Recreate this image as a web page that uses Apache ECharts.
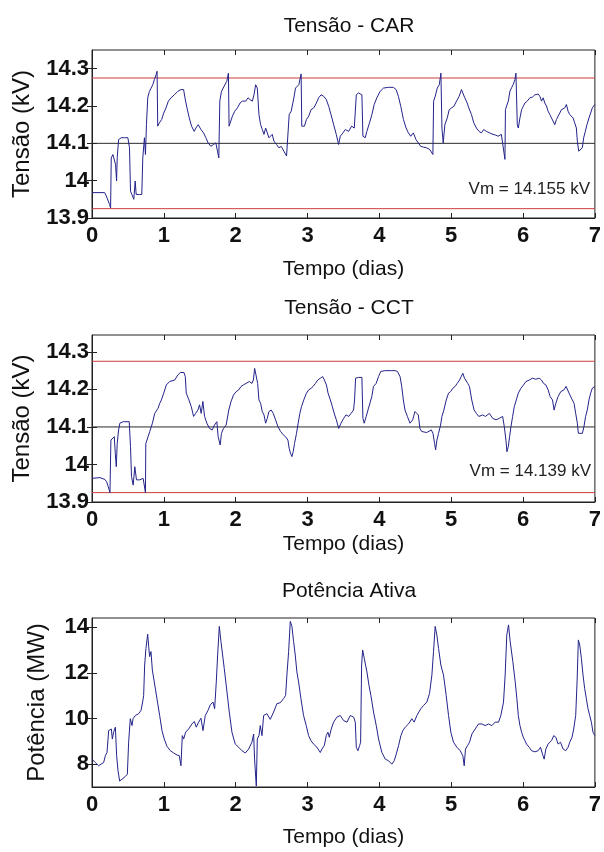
<!DOCTYPE html>
<html>
<head>
<meta charset="utf-8">
<script src="https://cdn.jsdelivr.net/npm/echarts@6/dist/echarts.min.js"></script>
<style>
  html, body { margin: 0; padding: 0; background: #fff; }
  #chart { width: 604px; height: 852px; }
</style>
</head>
<body>
<div id="chart"></div>
<script>
  // [dias, kV]
  var tensaoCAR = [
    [0, 13.968], [0.176, 13.968], [0.199, 13.959], [0.222, 13.954], [0.245, 13.936], [0.259, 13.927],
    [0.268, 14.061], [0.291, 14.07], [0.314, 14.066], [0.328, 14.043], [0.342, 13.999], [0.351, 14.061],
    [0.37, 14.11], [0.407, 14.115], [0.453, 14.115], [0.499, 14.115], [0.522, 14.088], [0.536, 13.972],
    [0.555, 13.963], [0.582, 13.95], [0.601, 13.999], [0.615, 13.963], [0.661, 13.963], [0.693, 13.963],
    [0.707, 14.061], [0.73, 14.115], [0.744, 14.07], [0.758, 14.15], [0.776, 14.222], [0.799, 14.239],
    [0.823, 14.248], [0.846, 14.257], [0.869, 14.271], [0.892, 14.284], [0.906, 14.293], [0.915, 14.146],
    [0.938, 14.155], [0.97, 14.164], [0.998, 14.181], [1.03, 14.195], [1.063, 14.213], [1.1, 14.222],
    [1.146, 14.23], [1.192, 14.239], [1.238, 14.244], [1.275, 14.244], [1.294, 14.222], [1.322, 14.195],
    [1.354, 14.168], [1.386, 14.146], [1.423, 14.132], [1.446, 14.141], [1.479, 14.15], [1.516, 14.137],
    [1.553, 14.128], [1.585, 14.115], [1.617, 14.101], [1.654, 14.092], [1.691, 14.097], [1.724, 14.101],
    [1.747, 14.079], [1.765, 14.061], [1.779, 14.213], [1.802, 14.239], [1.839, 14.253], [1.876, 14.266],
    [1.899, 14.288], [1.908, 14.146], [1.932, 14.15], [1.955, 14.173], [1.987, 14.186], [2.024, 14.195],
    [2.061, 14.208], [2.093, 14.213], [2.14, 14.213], [2.172, 14.222], [2.2, 14.217], [2.232, 14.213],
    [2.255, 14.23], [2.278, 14.257], [2.301, 14.248], [2.324, 14.177], [2.347, 14.15], [2.371, 14.137],
    [2.394, 14.124], [2.417, 14.141], [2.44, 14.137], [2.463, 14.115], [2.486, 14.11], [2.509, 14.124],
    [2.532, 14.106], [2.569, 14.097], [2.602, 14.088], [2.634, 14.092], [2.671, 14.079], [2.708, 14.066],
    [2.726, 14.061], [2.745, 14.177], [2.773, 14.186], [2.81, 14.222], [2.833, 14.248], [2.879, 14.257],
    [2.911, 14.286], [2.92, 14.146], [2.957, 14.146], [2.985, 14.164], [3.017, 14.173], [3.049, 14.19],
    [3.087, 14.195], [3.123, 14.208], [3.155, 14.222], [3.188, 14.23], [3.226, 14.226], [3.262, 14.217],
    [3.295, 14.199], [3.327, 14.177], [3.364, 14.15], [3.4, 14.124], [3.433, 14.097], [3.456, 14.119],
    [3.493, 14.128], [3.526, 14.137], [3.572, 14.132], [3.614, 14.146], [3.651, 14.141], [3.679, 14.23],
    [3.71, 14.235], [3.757, 14.23], [3.771, 14.119], [3.803, 14.115], [3.826, 14.132], [3.863, 14.155],
    [3.896, 14.177], [3.928, 14.204], [3.965, 14.222], [4.01, 14.239], [4.057, 14.248], [4.126, 14.25],
    [4.196, 14.25], [4.233, 14.244], [4.265, 14.226], [4.298, 14.199], [4.335, 14.164], [4.372, 14.141],
    [4.404, 14.128], [4.437, 14.119], [4.473, 14.128], [4.51, 14.11], [4.543, 14.101], [4.575, 14.092],
    [4.612, 14.09], [4.658, 14.088], [4.704, 14.083], [4.727, 14.088], [4.745, 14.07], [4.755, 14.213],
    [4.778, 14.226], [4.806, 14.248], [4.834, 14.257], [4.857, 14.288], [4.871, 14.141], [4.889, 14.101],
    [4.912, 14.15], [4.945, 14.168], [4.972, 14.19], [5.005, 14.195], [5.037, 14.199], [5.074, 14.213],
    [5.111, 14.226], [5.143, 14.244], [5.166, 14.239], [5.189, 14.222], [5.222, 14.208], [5.245, 14.195],
    [5.282, 14.177], [5.314, 14.155], [5.351, 14.141], [5.388, 14.132], [5.42, 14.128], [5.453, 14.137],
    [5.49, 14.132], [5.536, 14.128], [5.582, 14.124], [5.619, 14.122], [5.652, 14.119], [5.698, 14.124],
    [5.725, 14.122], [5.748, 14.057], [5.755, 14.19], [5.771, 14.2], [5.795, 14.213], [5.818, 14.24],
    [5.841, 14.249], [5.864, 14.258], [5.887, 14.271], [5.901, 14.288], [5.92, 14.15], [5.934, 14.141],
    [5.957, 14.168], [5.98, 14.19], [6.003, 14.199], [6.026, 14.208], [6.058, 14.213], [6.095, 14.222],
    [6.132, 14.224], [6.165, 14.23], [6.188, 14.226], [6.211, 14.232], [6.234, 14.226], [6.257, 14.213],
    [6.28, 14.222], [6.303, 14.208], [6.326, 14.2], [6.349, 14.186], [6.373, 14.177], [6.396, 14.168],
    [6.419, 14.164], [6.442, 14.15], [6.465, 14.164], [6.488, 14.168], [6.511, 14.181], [6.534, 14.19],
    [6.558, 14.186], [6.581, 14.195], [6.604, 14.204], [6.627, 14.186], [6.65, 14.177], [6.673, 14.177],
    [6.696, 14.168], [6.719, 14.155], [6.742, 14.141], [6.756, 14.106], [6.775, 14.079], [6.802, 14.077],
    [6.825, 14.088], [6.844, 14.115], [6.867, 14.132], [6.89, 14.15], [6.918, 14.168], [6.941, 14.181],
    [6.964, 14.195], [6.983, 14.199], [7.0, 14.204]
  ];

  var tensaoCCT = [
    [0, 13.963], [0.111, 13.965], [0.18, 13.96], [0.203, 13.954], [0.226, 13.941], [0.25, 13.925],
    [0.263, 14.065], [0.287, 14.07], [0.31, 14.074], [0.324, 14.03], [0.338, 13.994], [0.351, 14.056],
    [0.37, 14.092], [0.388, 14.11], [0.434, 14.114], [0.518, 14.114], [0.536, 14.048], [0.55, 13.968],
    [0.573, 13.945], [0.596, 13.994], [0.619, 13.959], [0.665, 13.959], [0.712, 13.963], [0.739, 13.959],
    [0.744, 13.925], [0.749, 14.056], [0.781, 14.074], [0.804, 14.088], [0.841, 14.11], [0.873, 14.136],
    [0.92, 14.15], [0.943, 14.163], [0.966, 14.172], [0.998, 14.19], [1.035, 14.212], [1.081, 14.221],
    [1.151, 14.225], [1.197, 14.239], [1.229, 14.245], [1.28, 14.245], [1.299, 14.234], [1.312, 14.19],
    [1.349, 14.172], [1.382, 14.154], [1.414, 14.128], [1.442, 14.136], [1.474, 14.145], [1.497, 14.159],
    [1.52, 14.136], [1.543, 14.168], [1.567, 14.128], [1.599, 14.11], [1.636, 14.096], [1.673, 14.092],
    [1.705, 14.105], [1.738, 14.114], [1.756, 14.074], [1.784, 14.052], [1.802, 14.083], [1.83, 14.096],
    [1.867, 14.105], [1.904, 14.145], [1.936, 14.168], [1.969, 14.185], [2.006, 14.194], [2.043, 14.199],
    [2.075, 14.208], [2.107, 14.212], [2.144, 14.216], [2.19, 14.221], [2.227, 14.216], [2.246, 14.225],
    [2.264, 14.256], [2.283, 14.261], [2.306, 14.216], [2.324, 14.172], [2.347, 14.163], [2.37, 14.141],
    [2.394, 14.132], [2.417, 14.11], [2.44, 14.123], [2.463, 14.141], [2.495, 14.145], [2.523, 14.136],
    [2.555, 14.119], [2.588, 14.101], [2.625, 14.088], [2.662, 14.079], [2.694, 14.074], [2.727, 14.065],
    [2.745, 14.043], [2.763, 14.03], [2.782, 14.021], [2.801, 14.034], [2.819, 14.056], [2.847, 14.083],
    [2.87, 14.11], [2.893, 14.136], [2.916, 14.154], [2.948, 14.172], [2.985, 14.19], [3.018, 14.199],
    [3.05, 14.203], [3.078, 14.208], [3.11, 14.216], [3.142, 14.225], [3.179, 14.23], [3.212, 14.234],
    [3.235, 14.225], [3.263, 14.212], [3.286, 14.19], [3.318, 14.172], [3.346, 14.154], [3.378, 14.132],
    [3.401, 14.119], [3.434, 14.096], [3.466, 14.11], [3.503, 14.123], [3.536, 14.132], [3.573, 14.128],
    [3.605, 14.136], [3.641, 14.145], [3.655, 14.172], [3.669, 14.23], [3.711, 14.232], [3.757, 14.232],
    [3.771, 14.123], [3.789, 14.11], [3.817, 14.128], [3.849, 14.15], [3.872, 14.145], [3.895, 14.181],
    [3.918, 14.208], [3.955, 14.216], [3.988, 14.234], [4.02, 14.248], [4.081, 14.25], [4.15, 14.25],
    [4.219, 14.25], [4.251, 14.248], [4.288, 14.234], [4.311, 14.208], [4.334, 14.172], [4.357, 14.145],
    [4.39, 14.128], [4.427, 14.11], [4.464, 14.119], [4.496, 14.141], [4.519, 14.145], [4.542, 14.132],
    [4.565, 14.096], [4.589, 14.088], [4.611, 14.092], [4.658, 14.085], [4.677, 14.088], [4.723, 14.092],
    [4.746, 14.083], [4.769, 14.056], [4.783, 14.039], [4.801, 14.065], [4.824, 14.083], [4.852, 14.105],
    [4.871, 14.128], [4.898, 14.145], [4.931, 14.172], [4.963, 14.19], [4.991, 14.194], [5.023, 14.203],
    [5.055, 14.208], [5.083, 14.216], [5.116, 14.225], [5.139, 14.234], [5.162, 14.243], [5.185, 14.23],
    [5.208, 14.225], [5.231, 14.216], [5.254, 14.208], [5.286, 14.172], [5.319, 14.145], [5.351, 14.136],
    [5.384, 14.128], [5.439, 14.132], [5.476, 14.128], [5.531, 14.136], [5.577, 14.123], [5.624, 14.119],
    [5.67, 14.123], [5.716, 14.128], [5.739, 14.101], [5.762, 14.065], [5.776, 14.034], [5.795, 14.048],
    [5.813, 14.074], [5.832, 14.101], [5.855, 14.128], [5.878, 14.154], [5.906, 14.172], [5.934, 14.19],
    [5.97, 14.203], [6.007, 14.212], [6.04, 14.221], [6.086, 14.225], [6.132, 14.23], [6.178, 14.227],
    [6.224, 14.23], [6.257, 14.225], [6.285, 14.216], [6.317, 14.212], [6.349, 14.199], [6.377, 14.181],
    [6.41, 14.172], [6.432, 14.145], [6.456, 14.163], [6.488, 14.181], [6.525, 14.194], [6.571, 14.199],
    [6.599, 14.208], [6.641, 14.19], [6.673, 14.177], [6.71, 14.163], [6.733, 14.136], [6.756, 14.11],
    [6.77, 14.083], [6.826, 14.083], [6.848, 14.101], [6.871, 14.128], [6.894, 14.145], [6.918, 14.172],
    [6.941, 14.19], [6.964, 14.203], [6.987, 14.199], [7.0, 14.208]
  ];

  // [dias, MW]
  var potenciaAtiva = [
    [0, 8.22], [0.023, 8.15], [0.046, 8.07], [0.07, 8.10], [0.093, 7.93], [0.125, 8.0], [0.162, 8.07],
    [0.186, 8.37], [0.209, 8.51], [0.232, 9.47], [0.255, 9.40], [0.269, 9.54], [0.283, 9.10], [0.301, 9.40],
    [0.325, 9.62], [0.334, 9.69], [0.343, 8.37], [0.362, 7.71], [0.385, 7.26], [0.417, 7.34], [0.464, 7.46],
    [0.492, 7.56], [0.51, 8.96], [0.533, 9.99], [0.557, 9.69], [0.571, 9.99], [0.603, 10.13], [0.649, 10.21],
    [0.682, 10.35], [0.705, 10.72], [0.719, 11.01], [0.733, 12.34], [0.751, 13.07], [0.775, 13.69],
    [0.789, 13.15], [0.802, 12.71], [0.821, 12.93], [0.84, 12.12], [0.867, 11.60], [0.904, 10.87],
    [0.942, 10.13], [0.974, 9.47], [1.006, 9.10], [1.044, 8.78], [1.09, 8.59], [1.136, 8.49], [1.183, 8.40],
    [1.215, 8.37], [1.238, 7.93], [1.257, 9.25], [1.276, 9.10], [1.303, 9.40], [1.345, 9.54], [1.391, 9.76],
    [1.424, 9.87], [1.452, 9.62], [1.484, 9.84], [1.517, 10.01], [1.545, 9.47], [1.577, 10.13],
    [1.614, 10.35], [1.647, 10.60], [1.684, 10.72], [1.707, 10.43], [1.73, 11.60], [1.749, 12.78],
    [1.772, 14.03], [1.795, 13.37], [1.818, 12.78], [1.841, 12.19], [1.879, 11.16], [1.911, 10.28],
    [1.948, 9.40], [1.994, 8.88], [2.041, 8.74], [2.087, 8.59], [2.134, 8.49], [2.18, 8.66], [2.226, 8.96],
    [2.25, 9.32], [2.263, 8.22], [2.287, 7.04], [2.301, 9.10], [2.324, 9.25], [2.342, 9.69], [2.366, 9.25],
    [2.389, 10.13], [2.435, 10.21], [2.481, 9.96], [2.528, 10.28], [2.574, 10.65], [2.621, 10.69],
    [2.667, 10.87], [2.695, 11.01], [2.713, 11.90], [2.737, 12.93], [2.76, 14.25], [2.783, 14.03],
    [2.806, 13.37], [2.829, 12.78], [2.852, 12.04], [2.876, 11.60], [2.908, 10.87], [2.945, 10.13],
    [2.982, 9.69], [3.015, 9.25], [3.047, 9.03], [3.084, 8.88], [3.131, 8.74], [3.178, 8.51], [3.2, 8.66],
    [3.233, 8.81], [3.261, 9.25], [3.284, 9.40], [3.303, 9.18], [3.33, 9.54], [3.363, 9.84], [3.409, 10.06],
    [3.456, 10.13], [3.502, 9.91], [3.549, 9.84], [3.595, 10.13], [3.642, 10.06], [3.665, 9.84],
    [3.679, 8.74], [3.702, 8.59], [3.725, 8.81], [3.739, 8.96], [3.753, 12.34], [3.767, 13.0], [3.79, 12.63],
    [3.827, 12.04], [3.855, 11.46], [3.882, 11.01], [3.919, 10.28], [3.957, 9.69], [3.989, 9.10],
    [4.035, 8.51], [4.082, 8.22], [4.128, 8.15], [4.174, 8.0], [4.207, 8.15], [4.235, 8.44], [4.267, 8.81],
    [4.3, 9.25], [4.327, 9.47], [4.36, 9.62], [4.406, 9.76], [4.452, 9.99], [4.485, 9.84], [4.522, 10.13],
    [4.578, 10.43], [4.615, 10.57], [4.661, 10.72], [4.698, 11.09], [4.731, 11.90], [4.754, 12.93],
    [4.777, 14.03], [4.8, 13.66], [4.824, 13.07], [4.856, 12.34], [4.893, 11.90], [4.93, 11.01],
    [4.963, 10.13], [4.995, 9.40], [5.032, 8.96], [5.079, 8.74], [5.125, 8.59], [5.162, 8.37], [5.181, 7.93],
    [5.199, 8.66], [5.227, 8.81], [5.255, 8.96], [5.288, 9.32], [5.334, 9.54], [5.38, 9.76], [5.427, 9.76],
    [5.473, 9.69], [5.52, 9.76], [5.566, 9.69], [5.612, 9.84], [5.659, 9.84], [5.691, 10.13],
    [5.728, 10.72], [5.751, 11.90], [5.774, 13.66], [5.798, 14.10], [5.821, 13.37], [5.858, 12.49],
    [5.891, 11.60], [5.914, 10.87], [5.934, 10.13], [5.957, 9.69], [5.98, 9.40], [6.003, 9.18],
    [6.026, 9.03], [6.049, 8.88], [6.086, 8.74], [6.118, 8.59], [6.165, 8.54], [6.211, 8.59], [6.243, 8.74],
    [6.271, 8.44], [6.294, 8.22], [6.317, 8.66], [6.349, 8.88], [6.396, 9.03], [6.428, 9.25], [6.456, 9.18],
    [6.488, 8.88], [6.521, 8.96], [6.558, 8.66], [6.594, 8.59], [6.627, 8.74], [6.65, 8.96], [6.682, 9.18],
    [6.705, 9.54], [6.733, 10.13], [6.752, 11.60], [6.77, 13.44], [6.789, 13.22], [6.812, 12.63],
    [6.835, 11.90], [6.858, 11.31], [6.881, 10.87], [6.904, 10.43], [6.928, 10.13], [6.951, 9.84],
    [6.974, 9.40], [7.0, 9.25]
  ];

  var tempoTicks = [0, 1, 2, 3, 4, 5, 6, 7];
  var tensaoTicks = [13.9, 14, 14.1, 14.2, 14.3];
  var potenciaTicks = [8, 10, 12, 14];
  var limitesTensao = [14.275, 13.925];   // linhas vermelhas
  var tensaoRef = 14.1;                    // linha preta
  var titulos = ['Tensão - CAR', 'Tensão - CCT', 'Potência Ativa'];
  var vmTextos = ['Vm = 14.155 kV', 'Vm = 14.139 kV'];

  var fonte = '"Liberation Sans", Arial, sans-serif';
  var azul = '#23238a';
  var vermelho = '#cc3d3d';

  var grids = [
    {left: 92, top: 50, width: 505, height: 168},
    {left: 92, top: 335, width: 505, height: 167},
    {left: 92, top: 618, width: 505, height: 169}
  ];
  grids.forEach(function (g) {
    g.show = true;
    g.borderColor = '#222';
    g.borderWidth = 1;
    g.backgroundColor = '#fff';
  });

  var nameGapsX = [41, 32, 40];
  var xAxes = [], yAxes = [];
  for (var i = 0; i < 3; i++) {
    // eixo de baixo (com rotulos)
    xAxes.push({
      type: 'value', gridIndex: i, min: 0, max: 7, interval: 1,
      name: 'Tempo (dias)', nameLocation: 'middle', nameGap: nameGapsX[i],
      nameTextStyle: {fontFamily: fonte, fontSize: 21, color: '#111'},
      axisLine: {show: true, onZero: false, lineStyle: {color: '#222'}},
      axisTick: {inside: true, length: 5, lineStyle: {color: '#222'}},
      axisLabel: {margin: 7, fontFamily: fonte, fontWeight: 'bold', fontSize: 22, color: '#111',
        customValues: tempoTicks},
      splitLine: {show: false}
    });
    // eixo de cima (so marcas)
    xAxes.push({
      type: 'value', gridIndex: i, min: 0, max: 7, interval: 1, position: 'top',
      axisLine: {show: false},
      axisTick: {inside: true, length: 5, lineStyle: {color: '#222'}},
      axisLabel: {show: false},
      splitLine: {show: false}
    });
  }

  var yDefs = [
    {min: 13.9, max: 14.35, ticks: tensaoTicks, name: 'Tensão (kV)', gap: 58, size: 24},
    {min: 13.9, max: 14.345, ticks: tensaoTicks, name: 'Tensão (kV)', gap: 58, size: 24},
    {min: 7, max: 14.4, ticks: potenciaTicks, name: 'Potência (MW)', gap: 43, size: 24}
  ];
  yDefs.forEach(function (d, i) {
    yAxes.push({
      type: 'value', gridIndex: i, min: d.min, max: d.max,
      name: d.name, nameLocation: 'middle', nameGap: d.gap,
      nameTextStyle: {fontFamily: fonte, fontSize: d.size, color: '#111'},
      axisLine: {show: true, lineStyle: {color: '#222'}},
      axisTick: {inside: true, length: 5, customValues: d.ticks, lineStyle: {color: '#222'}},
      axisLabel: {margin: 3, fontFamily: fonte, fontWeight: 'bold', fontSize: 22, color: '#111',
        customValues: d.ticks},
      splitLine: {show: false}
    });
    yAxes.push({
      type: 'value', gridIndex: i, min: d.min, max: d.max, position: 'right',
      axisLine: {show: false},
      axisTick: {inside: true, length: 5, customValues: d.ticks, lineStyle: {color: '#222'}},
      axisLabel: {show: false, customValues: d.ticks},
      splitLine: {show: false}
    });
  });

  function linhaHorizontal(idx, valor, cor) {
    return {
      type: 'line', xAxisIndex: idx * 2, yAxisIndex: idx * 2, silent: true,
      data: [[tempoTicks[0], valor], [tempoTicks[tempoTicks.length - 1], valor]],
      showSymbol: false, lineStyle: {color: cor, width: 1}, z: 2
    };
  }

  var series = [];
  [0, 1].forEach(function (k) {
    series.push(linhaHorizontal(k, limitesTensao[0], vermelho));
    series.push(linhaHorizontal(k, limitesTensao[1], vermelho));
    series.push(linhaHorizontal(k, tensaoRef, '#2a2a2a'));
  });
  series.push(
    {type: 'line', xAxisIndex: 0, yAxisIndex: 0, data: tensaoCAR, showSymbol: false,
      lineStyle: {color: azul, width: 1}, z: 3},
    {type: 'line', xAxisIndex: 2, yAxisIndex: 2, data: tensaoCCT, showSymbol: false,
      lineStyle: {color: azul, width: 1}, z: 3},
    {type: 'line', xAxisIndex: 4, yAxisIndex: 4, data: potenciaAtiva, showSymbol: false,
      lineStyle: {color: azul, width: 1}, z: 3}
  );

  var chart = echarts.init(document.getElementById('chart'), null, {renderer: 'canvas'});
  chart.setOption({
    animation: false,
    backgroundColor: '#fff',
    title: [
      {text: titulos[0], left: 344, top: 11, textAlign: 'center'},
      {text: titulos[1], left: 344, top: 293, textAlign: 'center'},
      {text: titulos[2], left: 344, top: 576, textAlign: 'center'}
    ].map(function (t) {
      t.textStyle = {fontFamily: fonte, fontSize: 21, fontWeight: 'normal', color: '#111'};
      return t;
    }),
    grid: grids,
    xAxis: xAxes,
    yAxis: yAxes,
    series: series,
    graphic: [
      {type: 'text', right: 14, top: 181, style: {text: vmTextos[0], fontFamily: fonte, fontSize: 17, fill: '#222'}},
      {type: 'text', right: 13, top: 463, style: {text: vmTextos[1], fontFamily: fonte, fontSize: 17, fill: '#222'}}
    ]
  });
</script>
</body>
</html>
